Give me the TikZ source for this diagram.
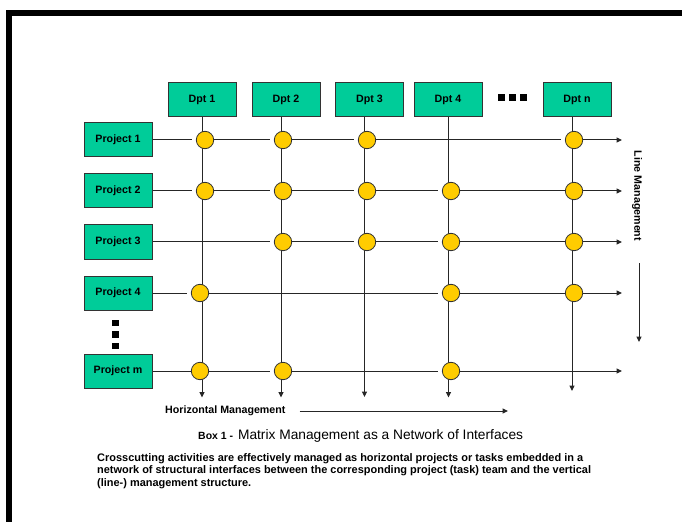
\documentclass[tikz,border=0pt]{standalone}
\usepackage{fontspec}
\setmainfont{Liberation Sans}
\usetikzlibrary{arrows.meta,backgrounds}
\definecolor{boxgreen}{RGB}{0,204,153}
\definecolor{dotyellow}{RGB}{255,204,0}
\begin{document}
\begin{tikzpicture}[x=1bp,y=-1bp,
  lbl/.style={font=\fontsize{10.7}{12}\selectfont\bfseries},
  gbox/.style={draw=black!80, line width=1bp, fill=boxgreen, minimum width=68bp,
    minimum height=34bp, inner sep=0pt, lbl},
  dot/.style={circle, draw=black!80, line width=0.8bp, fill=dotyellow,
    minimum size=17.4bp, inner sep=0pt},
  ln/.style={draw=black!85, line width=1bp},
  arr/.style={ln, -{Triangle[length=5.5bp,width=5bp]}},
  gap/.style={shorten >=3.5bp},
  sq/.style={fill=black, minimum size=7bp, inner sep=0pt},
  vsq/.style={fill=black, minimum size=6.5bp, inner sep=0pt}
]
\useasboundingbox (0,0) rectangle (682,522);
% frame
\draw[line width=6bp] (9,522) -- (9,13) -- (682,13);

% department boxes
\node[gbox] (d1) at (202,100) {Dpt 1};
\node[gbox] (d2) at (286,100) {Dpt 2};
\node[gbox] (d3) at (369.5,100) {Dpt 3};
\node[gbox] (d4) at (448,100) {Dpt 4};
\node[gbox] (dn) at (577,100) {Dpt n};
\node[sq] (h1) at (501.5,97.5) {};
\node[sq] (h2) at (512.5,97.5) {};
\node[sq] (h3) at (523.5,97.5) {};

% project boxes
\node[gbox] (p1) at (118,140) {Project 1};
\node[gbox] (p2) at (118,191) {Project 2};
\node[gbox] (p3) at (118,242) {Project 3};
\node[gbox] (p4) at (118,293) {Project 4};
\node[gbox] (pm) at (118,371) {Project m};
\node[vsq] (v1) at (115.7,323) {};
\node[vsq] (v2) at (115.7,334.7) {};
\node[vsq] (v3) at (115.7,346) {};

% interface circles
\node[dot] (c11) at (205,140) {};
\node[dot] (c12) at (283,140) {};
\node[dot] (c13) at (367,140) {};
\node[dot] (c15) at (574,140) {};
\node[dot] (c21) at (205,191) {};
\node[dot] (c22) at (283,191) {};
\node[dot] (c23) at (367,191) {};
\node[dot] (c24) at (451,191) {};
\node[dot] (c25) at (574,191) {};
\node[dot] (c32) at (283,242) {};
\node[dot] (c33) at (367,242) {};
\node[dot] (c34) at (451,242) {};
\node[dot] (c35) at (574,242) {};
\node[dot] (c41) at (200,293) {};
\node[dot] (c44) at (451,293) {};
\node[dot] (c45) at (574,293) {};
\node[dot] (cm1) at (200,371) {};
\node[dot] (cm2) at (283,371) {};
\node[dot] (cm4) at (451,371) {};

% coordinates
\coordinate (X1) at (202,0);
\coordinate (X2) at (281,0);
\coordinate (X3) at (364.5,0);
\coordinate (X4) at (448.5,0);
\coordinate (X5) at (572,0);
\coordinate (B1) at (202,397.5);
\coordinate (B2) at (281,397.5);
\coordinate (B3) at (364.5,397);
\coordinate (B4) at (448.5,397.5);
\coordinate (B5) at (572,391);
\coordinate (R1) at (622,140);
\coordinate (R2) at (622,191);
\coordinate (R3) at (622,242);
\coordinate (R4) at (622,293);
\coordinate (Rm) at (622,371);

% labels
\node[lbl, anchor=west, inner sep=0pt] (hm) at (165,411) {Horizontal Management};
\coordinate (hmE) at (508,411);
\node[lbl, rotate=-90, inner sep=0pt] (lm) at (637,196) {Line Management};
\coordinate (lmA) at (639,263);
\coordinate (lmB) at (639,342);

\node[anchor=base west, inner sep=0pt] (cap) at (198,439)
  {{\fontsize{10.5}{12}\selectfont\bfseries Box 1 -}\hspace{5bp}{\fontsize{13.8}{16}\selectfont Matrix Management as a Network of Interfaces}};

\node[anchor=north west, inner sep=0pt, align=left,
  font=\fontsize{11}{12.8}\selectfont\bfseries] (para) at (97,453)
  {Crosscutting activities are effectively managed as horizontal projects or tasks embedded in a\\
   network of structural interfaces between the corresponding project (task) team and the vertical\\
   (line-) management structure.};

\begin{pgfonlayer}{background}
  % vertical (line) connectors
  \draw[arr] (d1.south -| X1) -- (B1);
  \draw[arr] (d2.south -| X2) -- (B2);
  \draw[arr] (d3.south -| X3) -- (B3);
  \draw[arr] (d4.south -| X4) -- (B4);
  \draw[arr] (dn.south -| X5) -- (B5);
  % row 1
  \draw[ln,gap] (p1) -- (c11);
  \draw[ln,gap] (c11) -- (c12);
  \draw[ln,gap] (c12) -- (c13);
  \draw[ln,gap] (c13) -- (c15);
  \draw[arr] (c15) -- (R1);
  % row 2
  \draw[ln,gap] (p2) -- (c21);
  \draw[ln,gap] (c21) -- (c22);
  \draw[ln,gap] (c22) -- (c23);
  \draw[ln,gap] (c23) -- (c24);
  \draw[ln] (c24) -- (c25);
  \draw[arr] (c25) -- (R2);
  % row 3
  \draw[ln,gap] (p3) -- (c32);
  \draw[ln,gap] (c32) -- (c33);
  \draw[ln,gap] (c33) -- (c34);
  \draw[ln] (c34) -- (c35);
  \draw[arr] (c35) -- (R3);
  % row 4
  \draw[ln,gap] (p4) -- (c41);
  \draw[ln,gap] (c41) -- (c44);
  \draw[ln] (c44) -- (c45);
  \draw[arr] (c45) -- (R4);
  % row m
  \draw[ln] (pm) -- (cm1);
  \draw[ln,gap] (cm1) -- (cm2);
  \draw[ln,gap] (cm2) -- (cm4);
  \draw[arr] (cm4) -- (Rm);
  % management arrows
  \draw[arr] ([xshift=14bp]hm.east) -- (hmE);
  \draw[arr] (lmA) -- (lmB);
\end{pgfonlayer}
\end{tikzpicture}
\end{document}
